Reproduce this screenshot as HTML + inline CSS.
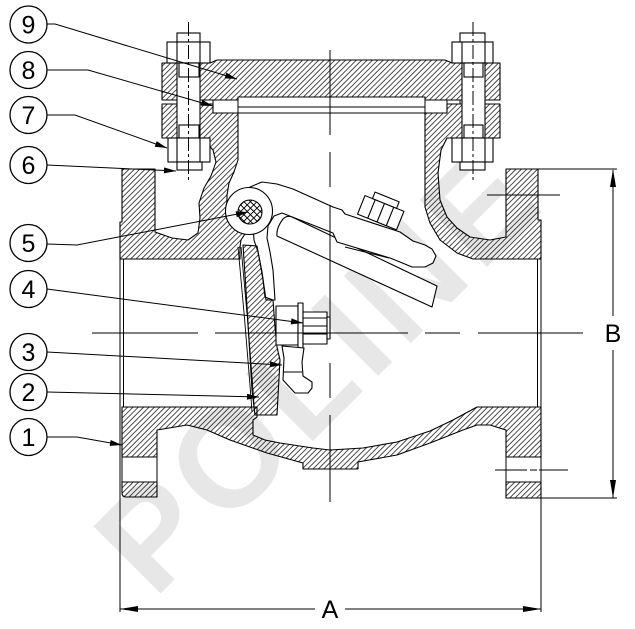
<!DOCTYPE html>
<html><head><meta charset="utf-8"><style>
html,body{margin:0;padding:0;background:#fff;}
svg{display:block;}
text{font-family:"Liberation Sans",Arial,sans-serif;}
</style></head><body>
<svg width="635" height="629" viewBox="0 0 635 629" xmlns="http://www.w3.org/2000/svg">
<defs>
<pattern id="h" patternUnits="userSpaceOnUse" width="3.8" height="10" patternTransform="rotate(45)">
<line x1="1.9" y1="-1" x2="1.9" y2="11" stroke="#000" stroke-width="0.7"/>
</pattern>
<pattern id="x" patternUnits="userSpaceOnUse" width="4.6" height="4.6" patternTransform="rotate(45)">
<path d="M0,2.3H4.6M2.3,0V4.6" stroke="#000" stroke-width="0.9"/>
</pattern>
</defs>
<rect width="635" height="629" fill="#fff"/>

<!-- watermark -->
<text transform="translate(154,600) rotate(-45)" font-size="138" font-weight="bold" letter-spacing="8" fill="#e7e7e7">POLINE</text>

<g stroke="#000" stroke-width="1.1" stroke-linejoin="round">
<!-- left upper body -->
<polygon fill="url(#h)" points="162,104 213,104 213,113 238,113 238,160 234,172 229,183 227,195 226.9,203 225.5,211 226.9,219 231,226 237.3,231.4 244.9,234.1 241,240 240,247 240,259 120,259 120,222 122,222 122,169 155,169 155,232 172,238 188,240 198,233 200,218 199,203 204,188 211,176 216,162 213,150 205,141 200,138 162,138"/>
<!-- right upper body -->
<polygon fill="url(#h)" points="425,113 447,113 447,104 500,104 500,138 447,138 441,150 438,173 440,200 447,217 457,228 470,237 490,240 506,237 506,169 538,169 538,220 541,220 541,259 473,259 457,253 440,240 430,223 425,207"/>
<!-- lower body -->
<polygon fill="url(#h)" points="122,407 257,407 257,417 253,420 253,435 265,440 280,443 313,448 330,450 363,448 397,442 430,431 453,420 477,407 541,407 541,457 506,457 506,430 490,425 477,425 463,430 430,443 397,455 358,462 358,469 303,469 303,463 267,453 230,440 207,430 187,425 157,430 157,457 122,457"/>
<path fill="url(#h)" d="M122,482 H157 V497 H126 Q122,497 122,493 Z"/>
<path fill="url(#h)" d="M506,482 H541 V498 H506 Z"/>
<!-- cover -->
<polygon fill="url(#h)" points="162,63 210,63 217,60 445,60 452,63 500,63 500,100 425,100 425,97 238,97 238,100 162,100"/>
</g>

<g stroke="#000" stroke-width="1" fill="none">
<!-- flange hole side lines -->
<line x1="122" y1="457" x2="122" y2="482"/><line x1="157" y1="457" x2="157" y2="482"/>
<line x1="506" y1="457" x2="506" y2="482"/><line x1="541" y1="457" x2="541" y2="498"/>
<!-- bore lines -->
<line x1="123.5" y1="259" x2="123.5" y2="407"/>
<line x1="120" y1="259" x2="120" y2="612"/>
<line x1="537.5" y1="259" x2="537.5" y2="407"/>
<line x1="541" y1="259" x2="541" y2="612"/>
<!-- gasket -->
<line x1="213" y1="113" x2="447" y2="113"/>
<line x1="238" y1="107" x2="425" y2="107"/>
<line x1="238" y1="97" x2="238" y2="113"/>
<line x1="425" y1="97" x2="425" y2="113"/>
<rect x="200" y="100" width="13" height="4"/>
<rect x="447" y="100" width="13" height="4"/>
</g>

<!-- arm plate -->
<g stroke="#000" stroke-width="1.1" fill="#fff" stroke-linejoin="round">
<path d="M283,219 Q287,215 292,217 L437,286 L432,307 L277,236 Q276,228 283,219 Z"/>
<line x1="345" y1="247" x2="389" y2="258" stroke-width="1"/>
<!-- arm -->
<polygon points="250,187 262,182 277,184 293,189 313,198 333,207 342,210 345,214 400,232 413,241 425,245 432,249 436,256 433,263 425,267 412,267 400,262 390,258 337,242 333,233 300,220 282,213 274,216 268,226 267,238 270,252 273,270 275,300 266,300 262,272 258,252 254,240"/>
<!-- hex nut on arm -->
<g transform="translate(377,222) rotate(22)">
<rect x="-21" y="-20" width="42" height="20"/>
<line x1="-10" y1="-20" x2="-10" y2="0"/><line x1="0" y1="-20" x2="0" y2="0"/><line x1="10" y1="-20" x2="10" y2="0"/>
<rect x="-13" y="-27" width="26" height="7"/>
</g>
<!-- boss -->
<circle cx="249" cy="211" r="23.5"/>
<circle cx="250" cy="212" r="12" fill="url(#x)"/>
</g>

<!-- disc -->
<g stroke="#000" stroke-width="1.1" stroke-linejoin="round">
<polygon fill="url(#h)" points="243,245 257,246 260,262 263,280 265,297 273,300 275,327 277,347 280,360 277,415 255,415 252,390 249,340 246,290"/>
<path fill="none" stroke-width="0.9" d="M238,247 Q246,330 252,412 M241,247 Q249,330 254.5,412"/>
<!-- disc nut -->
<rect x="276" y="306" width="22" height="39" fill="#fff"/>
<rect x="298" y="303" width="5" height="45" fill="#fff"/>
<rect x="303" y="312" width="24" height="32" fill="#fff"/>
<line x1="303" y1="318" x2="327" y2="318"/><line x1="303" y1="326" x2="327" y2="326"/><line x1="303" y1="334" x2="327" y2="334"/>
<rect x="327" y="317" width="3" height="22" fill="#fff"/>
<!-- hook -->
<polygon fill="#fff" points="282,346 284,358 283,380 295,393 308,393 312,388 312,382 303,376 302,362 304,348"/>
<line x1="283" y1="372" x2="302" y2="372" stroke-width="0.9"/>
</g>

<!-- bolts -->
<g stroke="#000" stroke-width="1.1" fill="#fff">
<rect x="177" y="33" width="23" height="9"/>
<rect x="167" y="42" width="43" height="21"/>
<line x1="177" y1="42" x2="177" y2="63"/><line x1="200" y1="42" x2="200" y2="63"/>
<rect x="177" y="63" width="23" height="75"/>
<rect x="179" y="63" width="20" height="14"/>
<rect x="179" y="125" width="20" height="13"/>
<rect x="168" y="138" width="42" height="24"/>
<line x1="177" y1="138" x2="177" y2="162"/><line x1="200" y1="138" x2="200" y2="162"/>
<rect x="177" y="162" width="25" height="8"/>

<rect x="460" y="33" width="25" height="9"/>
<rect x="452" y="42" width="41" height="21"/>
<line x1="462" y1="42" x2="462" y2="63"/><line x1="485" y1="42" x2="485" y2="63"/>
<rect x="462" y="63" width="23" height="75"/>
<rect x="464" y="63" width="19" height="14"/>
<rect x="464" y="125" width="19" height="13"/>
<rect x="452" y="138" width="41" height="24"/>
<line x1="462" y1="138" x2="462" y2="162"/><line x1="485" y1="138" x2="485" y2="162"/>
<rect x="460" y="162" width="25" height="8"/>
</g>

<!-- center lines -->
<g stroke="#000" stroke-width="1" fill="none">
<line x1="188.5" y1="22" x2="188.5" y2="180" stroke-dasharray="14 3 3 3"/>
<line x1="473" y1="22" x2="473" y2="180" stroke-dasharray="14 3 3 3"/>
<path d="M330,50V135M330,152V187M330,205V335M330,363V398M330,415V502"/>
<path d="M92,333H198M215,333H408M425,333H460M478,333H583"/>
<path d="M487,195H560"/>
<path d="M495,470H527M530,470H537M539,470H568"/>
</g>

<!-- dimensions -->
<g stroke="#000" stroke-width="1" fill="none">
<path d="M120,609H315M345,609H541"/>
<path d="M613,170V316M613,350V498"/>
<path d="M538,169H617M541,498H617"/>
</g>
<g fill="#000">
<polygon points="120,609 138,606 138,612"/>
<polygon points="541,609 523,606 523,612"/>
<polygon points="613,169 610,187 616,187"/>
<polygon points="613,498 610,480 616,480"/>
</g>
<text x="330" y="618" font-size="25" text-anchor="middle" fill="#000">A</text>
<text x="613" y="342" font-size="25" text-anchor="middle" fill="#000">B</text>

<!-- leaders -->
<g stroke="#000" stroke-width="1" fill="none">
<polyline points="47,24 55,24 237,79"/>
<polyline points="47,70 88,70 213,106"/>
<polyline points="47,115 75,115 167,148"/>
<polyline points="47,165 176,171"/>
<polyline points="47,244 77,245 248,212"/>
<polyline points="47,289 303,323"/>
<polyline points="47,352 282,365"/>
<polyline points="47,392 259,397"/>
<polyline points="47,437 77,437 122,445"/>
</g>
<g fill="#000">
<polygon points="237,79 224.6,78.4 226.4,72.6"/>
<polygon points="213,106 200.7,105.6 202.3,99.8"/>
<polygon points="167,148 154.7,146.7 156.7,141.1"/>
<polygon points="176,171 163.9,173.4 164.1,167.4"/>
<polygon points="248,212 236.8,217.2 235.6,211.3"/>
<polygon points="303,323 290.7,324.4 291.5,318.4"/>
<polygon points="282,365 269.8,367.3 270.2,361.3"/>
<polygon points="259,397 246.9,399.7 247.1,393.7"/>
<polygon points="122,445 109.7,445.9 110.7,440"/>
</g>

<!-- label circles -->
<g stroke="#000" stroke-width="1.3" fill="#fff">
<circle cx="28.5" cy="24.5" r="18.5"/>
<circle cx="28.5" cy="70" r="18.5"/>
<circle cx="28.5" cy="115" r="18.5"/>
<circle cx="28.5" cy="165" r="18.5"/>
<circle cx="28.5" cy="243" r="18.5"/>
<circle cx="28.5" cy="289" r="18.5"/>
<circle cx="28.5" cy="352" r="18.5"/>
<circle cx="28.5" cy="392" r="18.5"/>
<circle cx="28.5" cy="437" r="18.5"/>
</g>
<g font-size="25" text-anchor="middle" fill="#000">
<text x="28.5" y="33.5">9</text>
<text x="28.5" y="79">8</text>
<text x="28.5" y="124">7</text>
<text x="28.5" y="174">6</text>
<text x="28.5" y="252">5</text>
<text x="28.5" y="298">4</text>
<text x="28.5" y="361">3</text>
<text x="28.5" y="401">2</text>
<text x="28.5" y="446">1</text>
</g>
</svg>
</body></html>
